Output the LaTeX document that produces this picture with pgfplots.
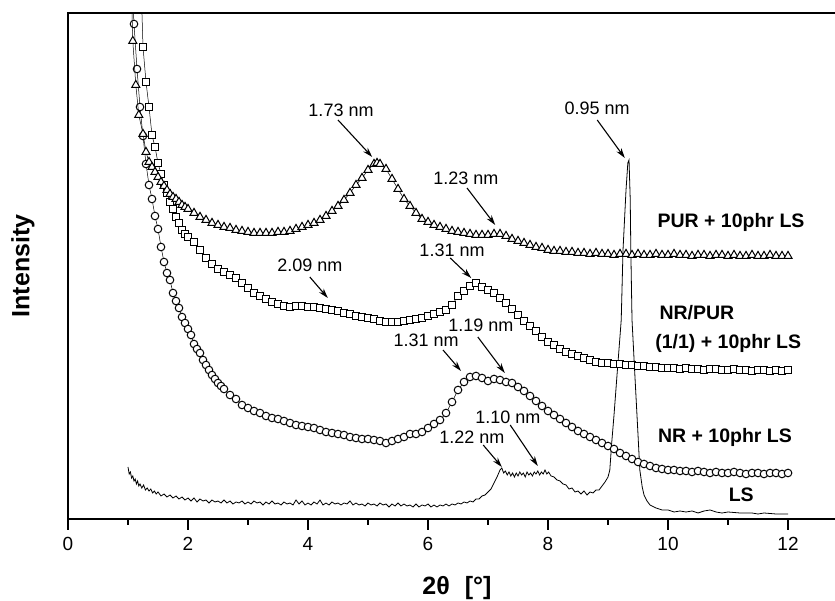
\documentclass[border=0pt]{standalone}
\usepackage{fontspec}
\setmainfont{Liberation Sans}
\usepackage{pgfplots}
\pgfplotsset{compat=1.18}
\usetikzlibrary{arrows.meta}
\tikzset{
    annot/.style={font=\fontsize{18}{20}\selectfont},
    lab/.style={font=\fontsize{19.5}{22}\selectfont\bfseries},
    arr/.style={line width=1.1pt, -{Stealth[length=10pt,width=6pt]}},
}
\pgfplotsset{
    ser/.style={black, line width=0.5pt, mark options={fill=white, draw=black, line width=1pt, solid}},
}

\begin{document}
\begin{tikzpicture}
\useasboundingbox (0,0) rectangle (835pt,601pt);
\begin{axis}[
    scale only axis,
    width=767pt, height=506pt,
    at={(68pt,82pt)}, anchor=south west,
    xmin=0, xmax=12.783, ymin=0, ymax=506,
    axis line style={draw=none},
    ytick=\empty,
    xtick={0,2,...,12},
    minor xtick={1,3,...,11},
    xtick pos=left,
    tick align=outside,
    major tick length=11pt,
    minor tick length=6pt,
    every major tick/.style={line width=1.6pt, black},
    every minor tick/.style={line width=1.4pt, black},
    xticklabel style={font=\fontsize{19}{22}\selectfont, yshift=-4pt},
    /pgf/number format/assume math mode=true,
    clip mode=individual,
]
\draw[line width=1.8pt] (rel axis cs:1,1) -- (rel axis cs:0,1) -- (rel axis cs:0,0) -- (rel axis cs:1,0);

% LS
\addplot[black, line width=0.8pt, no marks] coordinates {
(1.00,52) (1.02,45) (1.04,47) (1.06,41) (1.08,43) (1.10,38) (1.12,40) (1.14,35) (1.16,38)
(1.18,33) (1.20,35) (1.23,31) (1.26,34) (1.29,29) (1.32,31) (1.35,28) (1.38,30) (1.41,26)
(1.44,28) (1.47,25) (1.50,27) (1.55,23) (1.60,25) (1.65,22) (1.70,24) (1.75,21) (1.80,23)
(1.85,20) (1.90,22) (1.95,19) (2.00,21) (2.05,18) (2.10,21) (2.15,17) (2.20,20) (2.25,18)
(2.30,19) (2.35,16) (2.40,19) (2.45,17) (2.50,18) (2.55,16) (2.60,19) (2.65,16) (2.70,18)
(2.75,15) (2.80,17) (2.85,16) (2.90,18) (2.95,15) (3.00,17) (3.05,15) (3.10,18) (3.15,16)
(3.20,17) (3.25,14) (3.30,17) (3.35,15) (3.40,18) (3.45,15) (3.50,16) (3.55,14) (3.60,17)
(3.65,15) (3.70,16) (3.75,14) (3.80,19) (3.85,15) (3.90,18) (3.95,14) (4.00,16) (4.05,14)
(4.10,17) (4.15,15) (4.20,19) (4.25,14) (4.30,16) (4.35,14) (4.40,17) (4.45,15) (4.50,16)
(4.55,14) (4.60,16) (4.65,15) (4.70,18) (4.75,14) (4.80,16) (4.85,14) (4.90,15) (4.95,13)
(5.00,16) (5.05,14) (5.10,15) (5.15,13) (5.20,16) (5.25,14) (5.30,15) (5.35,12) (5.40,15)
(5.45,13) (5.50,16) (5.55,13) (5.60,15) (5.65,13) (5.70,14) (5.75,12) (5.80,15) (5.85,12)
(5.90,14) (5.95,13) (6.00,15) (6.05,12) (6.10,14) (6.15,12) (6.20,14) (6.25,13) (6.30,15)
(6.35,13) (6.40,15) (6.45,14) (6.50,16) (6.55,15) (6.60,17) (6.65,16) (6.70,18) (6.75,17)
(6.80,20) (6.85,20) (6.90,23) (6.95,24) (7.00,27) (7.05,30) (7.10,36) (7.15,42) (7.20,49)
(7.23,51) (7.26,46) (7.29,48) (7.32,44) (7.35,47) (7.38,43) (7.41,46) (7.44,42) (7.47,46)
(7.50,43) (7.53,47) (7.56,44) (7.59,46) (7.62,42) (7.65,47) (7.68,44) (7.71,46) (7.74,43)
(7.77,47) (7.80,45) (7.83,48) (7.86,44) (7.89,47) (7.92,45) (7.95,49) (7.98,45) (8.01,47)
(8.05,43) (8.10,42) (8.15,39) (8.20,38) (8.25,35) (8.30,34) (8.35,30) (8.40,31) (8.45,27)
(8.50,28) (8.55,25) (8.60,28) (8.65,24) (8.70,27) (8.75,26) (8.80,29) (8.85,29) (8.90,33)
(8.95,37) (9.00,42) (9.03,49) (9.06,75) (9.10,104) (9.15,144) (9.20,183) (9.22,199)
(9.25,269) (9.30,329) (9.33,356) (9.35,359) (9.37,320) (9.38,269) (9.40,199) (9.45,141)
(9.50,84) (9.53,49) (9.57,32) (9.60,24) (9.65,18) (9.70,14) (9.80,11) (9.90,9) (10.0,9)
(10.1,7) (10.2,8) (10.3,7) (10.4,8) (10.5,6) (10.6,8) (10.7,9) (10.8,7) (10.9,6) (11.0,7)
(11.2,6) (11.4,6) (11.5,5) (11.6,6) (11.8,5) (12.0,5)
};

% NR + 10phr LS
\addplot[ser, mark=*, mark size=3.8pt] coordinates {
(1.05,560) (1.10,495) (1.15,450) (1.20,412) (1.25,383) (1.30,355) (1.35,334) (1.40,320)
(1.45,303) (1.50,290) (1.55,272) (1.60,257) (1.65,246) (1.70,239) (1.75,226) (1.80,218)
(1.85,211) (1.90,202) (1.95,196) (2.00,190) (2.05,184) (2.10,175) (2.15,170) (2.20,166)
(2.25,159) (2.30,154) (2.35,149) (2.40,144) (2.45,140) (2.50,136) (2.55,133) (2.60,130)
(2.70,124) (2.80,120) (2.90,114) (3.00,111) (3.10,108) (3.20,106) (3.30,103) (3.40,101)
(3.50,100) (3.60,98) (3.70,96) (3.80,94) (3.90,93) (4.00,92) (4.10,91) (4.20,89) (4.30,87)
(4.40,86) (4.50,85) (4.60,84) (4.70,82) (4.80,81) (4.90,80) (5.00,80) (5.10,79) (5.20,78)
(5.30,76) (5.40,78) (5.50,80) (5.60,82) (5.70,85) (5.80,85) (5.90,87) (6.00,91) (6.10,95)
(6.20,99) (6.30,106) (6.40,117) (6.50,129) (6.60,137) (6.70,142) (6.80,143) (6.90,141)
(7.00,138) (7.10,140) (7.20,139) (7.30,137) (7.40,136) (7.50,132) (7.60,128) (7.70,123)
(7.80,118) (7.90,113) (8.00,108) (8.10,104) (8.20,100) (8.30,96) (8.40,92) (8.50,88)
(8.60,85) (8.70,82) (8.80,79) (8.90,76) (9.00,73) (9.10,70) (9.20,66) (9.30,63) (9.40,60)
(9.50,57) (9.60,55) (9.70,53) (9.80,51) (9.90,50) (10.0,49) (10.1,49) (10.2,48) (10.3,48)
(10.4,47) (10.5,48) (10.6,47) (10.7,46) (10.8,47) (10.9,46) (11.0,46) (11.1,47) (11.2,46)
(11.3,45) (11.4,46) (11.5,46) (11.6,45) (11.7,46) (11.8,46) (11.9,45) (12.0,46)
};

% NR/PUR (1/1) + 10phr LS
\addplot[ser, mark=square*, mark size=3.6pt] coordinates {
(1.22,530) (1.25,472) (1.30,437) (1.35,412) (1.40,384) (1.45,372) (1.50,356) (1.55,345)
(1.60,334) (1.65,326) (1.70,317) (1.75,310) (1.80,302) (1.85,296) (1.90,289) (1.95,285)
(2.00,282) (2.10,277) (2.20,269) (2.30,261) (2.40,255) (2.50,250) (2.60,247) (2.70,244)
(2.80,241) (2.90,236) (3.00,231) (3.10,226) (3.20,223) (3.30,220) (3.40,217) (3.50,215)
(3.60,213) (3.70,212) (3.80,213) (3.90,213) (4.00,212) (4.10,212) (4.20,211) (4.30,210)
(4.40,209) (4.50,208) (4.60,206) (4.70,205) (4.80,203) (4.90,202) (5.00,201) (5.10,200)
(5.20,198) (5.30,197) (5.40,197) (5.50,197) (5.60,198) (5.70,199) (5.80,200) (5.90,201)
(6.00,203) (6.10,205) (6.20,207) (6.30,209) (6.40,214) (6.50,223) (6.60,228) (6.70,233)
(6.80,236) (6.90,232) (7.00,229) (7.10,226) (7.20,221) (7.30,216) (7.40,210) (7.50,204)
(7.60,198) (7.70,193) (7.80,188) (7.90,182) (8.00,177) (8.10,174) (8.20,170) (8.30,167)
(8.40,165) (8.50,163) (8.60,161) (8.70,159) (8.80,157) (8.90,156) (9.00,156) (9.10,155)
(9.20,155) (9.30,154) (9.40,154) (9.50,153) (9.60,153) (9.70,152) (9.80,152) (9.90,151)
(10.0,151) (10.1,151) (10.2,150) (10.3,151) (10.4,150) (10.5,150) (10.6,149) (10.7,150)
(10.8,150) (10.9,149) (11.0,149) (11.1,150) (11.2,149) (11.3,149) (11.4,148) (11.5,149)
(11.6,149) (11.7,148) (11.8,149) (11.9,148) (12.0,149)
};

% PUR + 10phr LS
\addplot[ser, mark=triangle*, mark size=4.6pt] coordinates {
(1.05,540) (1.08,478) (1.13,434) (1.18,404) (1.25,385) (1.30,367) (1.35,357) (1.40,352)
(1.45,347) (1.50,342) (1.55,337) (1.60,333) (1.65,329) (1.70,325) (1.75,322) (1.80,320)
(1.85,317) (1.90,314) (1.95,312) (2.00,310) (2.10,306) (2.20,302) (2.30,299) (2.40,296)
(2.50,294) (2.60,292) (2.70,291) (2.80,289) (2.90,288) (3.00,287) (3.10,286) (3.20,286)
(3.30,286) (3.40,286) (3.50,287) (3.60,287) (3.70,288) (3.80,290) (3.90,292) (4.00,294)
(4.10,296) (4.20,299) (4.30,303) (4.40,308) (4.50,313) (4.60,319) (4.70,326) (4.80,334)
(4.90,341) (5.00,349) (5.10,355) (5.15,356) (5.20,355) (5.30,350) (5.40,340) (5.50,330)
(5.60,320) (5.70,313) (5.80,306) (5.90,300) (6.00,297) (6.10,294) (6.20,292) (6.30,290)
(6.40,288) (6.50,287) (6.60,286) (6.70,285) (6.80,284) (6.90,284) (7.00,284) (7.10,285)
(7.20,285) (7.30,283) (7.40,280) (7.50,278) (7.60,276) (7.70,274) (7.80,272) (7.90,271)
(8.00,269) (8.10,268) (8.20,268) (8.30,267) (8.40,267) (8.50,266) (8.60,266) (8.70,265)
(8.80,266) (8.90,265) (9.00,265) (9.10,264) (9.20,265) (9.30,265) (9.40,264) (9.50,265)
(9.60,264) (9.70,264) (9.80,265) (9.90,264) (10.0,264) (10.1,265) (10.2,264) (10.3,264)
(10.4,263) (10.5,264) (10.6,264) (10.7,263) (10.8,264) (10.9,264) (11.0,263) (11.1,264)
(11.2,263) (11.3,263) (11.4,264) (11.5,263) (11.6,263) (11.7,264) (11.8,263) (11.9,263)
(12.0,263)
};

% peak annotations
\node[annot] at (axis cs:4.55,409) {1.73 nm};
\draw[arr] (axis cs:4.50,399) -- (axis cs:5.07,362);
\node[annot] at (axis cs:6.63,341) {1.23 nm};
\draw[arr] (axis cs:6.65,331) -- (axis cs:7.12,294);
\node[annot] at (axis cs:6.40,269) {1.31 nm};
\draw[arr] (axis cs:6.37,261) -- (axis cs:6.72,241);
\node[annot] at (axis cs:4.03,254) {2.09 nm};
\draw[arr] (axis cs:4.03,242) -- (axis cs:4.33,221);
\node[annot] at (axis cs:5.97,179) {1.31 nm};
\draw[arr] (axis cs:6.25,169) -- (axis cs:6.55,148);
\node[annot] at (axis cs:6.88,194) {1.19 nm};
\draw[arr] (axis cs:6.83,182) -- (axis cs:7.28,146);
\node[annot] at (axis cs:7.33,102) {1.10 nm};
\draw[arr] (axis cs:7.37,94) -- (axis cs:7.83,53);
\node[annot] at (axis cs:6.73,82) {1.22 nm};
\draw[arr] (axis cs:6.92,74) -- (axis cs:7.23,52);
\node[annot] at (axis cs:8.82,411) {0.95 nm};
\draw[arr] (axis cs:8.82,399) -- (axis cs:9.28,361);

% series labels
\node[lab] at (axis cs:11.05,297) {PUR + 10phr LS};
\node[lab, anchor=west] at (axis cs:9.80,206) {NR/PUR};
\node[lab, anchor=west] at (axis cs:9.73,176) {(1/1) + 10phr LS};
\node[lab] at (axis cs:10.95,82) {NR + 10phr LS};
\node[lab] at (axis cs:11.22,24) {LS};
\end{axis}
\node[font=\fontsize{25}{28}\selectfont\bfseries] at (457pt,13pt) {2θ\hspace{0.6em}[°]};
\node[font=\fontsize{25}{28}\selectfont\bfseries, rotate=90] at (23pt,335pt) {Intensity};
\end{tikzpicture}
\end{document}
